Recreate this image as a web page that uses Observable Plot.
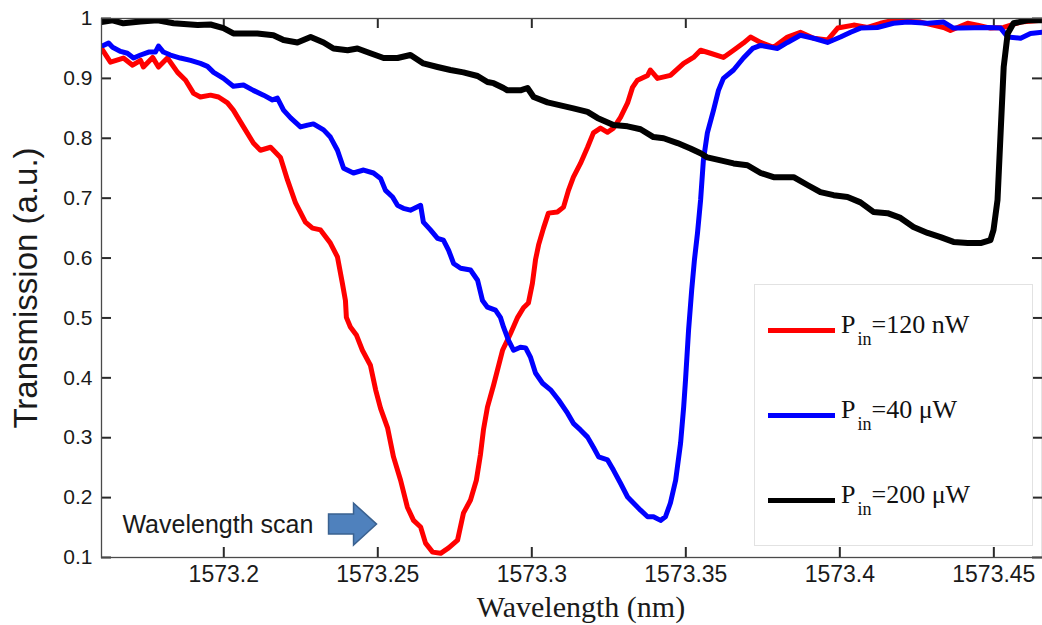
<!DOCTYPE html>
<html>
<head>
<meta charset="utf-8">
<script src="https://cdn.jsdelivr.net/npm/d3@7"></script>
<script src="https://cdn.jsdelivr.net/npm/@observablehq/plot@0.6"></script>
<style>
  body { margin: 0; background: #fff; }
  #wrap { position: relative; width: 1042px; height: 625px; overflow: hidden; background: #fff; }
  .legend { position: absolute; left: 754px; top: 284px; width: 279px; height: 262px;
    border: 1px solid #e2e2e2; background: #fff; box-sizing: border-box;
    font-family: "Liberation Serif", "Times New Roman", serif; font-size: 26px; color: #111; }
  .legend .sw { position: absolute; left: 13px; width: 67px; height: 5px; }
  .legend .lbl { position: absolute; left: 86px; line-height: 1; white-space: nowrap; }
  .legend .lbl sub { font-size: 18px; vertical-align: -12px; line-height: 1; margin-left: 2px; }
</style>
</head>
<body>
<div id="wrap"></div>
<script>
// ---- data (wavelength nm, transmission a.u.) ----
const redCurve = [
[1573.1603,0.950],[1573.1632,0.927],[1573.1674,0.934],[1573.1704,0.922],[1573.1730,0.930],[1573.1739,0.919],
[1573.1769,0.935],[1573.1788,0.919],[1573.1817,0.934],[1573.1850,0.910],[1573.1876,0.897],[1573.1902,0.875],
[1573.1924,0.869],[1573.1957,0.872],[1573.1983,0.869],[1573.2012,0.859],[1573.2031,0.847],[1573.2064,0.819],
[1573.2096,0.792],[1573.2119,0.780],[1573.2152,0.785],[1573.2184,0.768],[1573.2207,0.730],[1573.2233,0.692],
[1573.2265,0.660],[1573.2288,0.650],[1573.2314,0.647],[1573.2346,0.625],[1573.2369,0.602],[1573.2385,0.558],
[1573.2395,0.529],[1573.2398,0.501],[1573.2411,0.485],[1573.2431,0.471],[1573.2450,0.446],[1573.2476,0.421],
[1573.2493,0.380],[1573.2509,0.349],[1573.2532,0.316],[1573.2551,0.268],[1573.2574,0.229],[1573.2596,0.184],
[1573.2616,0.162],[1573.2639,0.151],[1573.2655,0.124],[1573.2678,0.109],[1573.2704,0.107],[1573.2730,0.116],
[1573.2759,0.129],[1573.2778,0.174],[1573.2801,0.196],[1573.2820,0.229],[1573.2833,0.271],[1573.2843,0.313],
[1573.2856,0.351],[1573.2876,0.388],[1573.2905,0.446],[1573.2931,0.474],[1573.2954,0.501],[1573.2973,0.517],
[1573.2989,0.525],[1573.3002,0.558],[1573.3012,0.597],[1573.3022,0.622],[1573.3038,0.650],[1573.3054,0.675],
[1573.3083,0.677],[1573.3103,0.685],[1573.3119,0.713],[1573.3135,0.735],[1573.3158,0.758],[1573.3181,0.785],
[1573.3200,0.809],[1573.3223,0.817],[1573.3246,0.810],[1573.3265,0.817],[1573.3288,0.835],[1573.3311,0.859],
[1573.3327,0.885],[1573.3343,0.897],[1573.3376,0.905],[1573.3385,0.914],[1573.3408,0.900],[1573.3450,0.905],
[1573.3493,0.925],[1573.3525,0.935],[1573.3548,0.947],[1573.3580,0.942],[1573.3622,0.935],[1573.3655,0.947],
[1573.3687,0.959],[1573.3710,0.969],[1573.3743,0.960],[1573.3785,0.952],[1573.3830,0.969],[1573.3872,0.977],
[1573.3915,0.967],[1573.3960,0.964],[1573.3993,0.984],[1573.4045,0.989],[1573.4090,0.985],[1573.4132,0.992],
[1573.4174,0.997],[1573.4230,0.995],[1573.4262,0.994],[1573.4337,0.985],[1573.4359,0.980],[1573.4415,0.992],
[1573.4447,0.989],[1573.4489,0.984],[1573.4532,0.985],[1573.4587,0.994],[1573.4658,0.997]
];
const blueCurve = [
[1573.1609,0.955],[1573.1626,0.959],[1573.1639,0.952],[1573.1665,0.945],[1573.1687,0.942],[1573.1707,0.934],
[1573.1730,0.939],[1573.1756,0.944],[1573.1778,0.944],[1573.1788,0.954],[1573.1804,0.944],[1573.1827,0.939],
[1573.1859,0.934],[1573.1892,0.930],[1573.1924,0.925],[1573.1947,0.920],[1573.1967,0.910],[1573.1999,0.900],
[1573.2031,0.887],[1573.2064,0.889],[1573.2096,0.880],[1573.2129,0.872],[1573.2158,0.864],[1573.2174,0.867],
[1573.2194,0.847],[1573.2217,0.834],[1573.2249,0.819],[1573.2272,0.822],[1573.2291,0.824],[1573.2324,0.814],
[1573.2346,0.802],[1573.2369,0.780],[1573.2389,0.750],[1573.2421,0.742],[1573.2454,0.747],[1573.2486,0.742],
[1573.2509,0.733],[1573.2525,0.713],[1573.2548,0.702],[1573.2564,0.688],[1573.2583,0.683],[1573.2606,0.680],
[1573.2639,0.688],[1573.2648,0.660],[1573.2671,0.647],[1573.2694,0.633],[1573.2713,0.630],[1573.2730,0.613],
[1573.2746,0.591],[1573.2769,0.583],[1573.2801,0.580],[1573.2824,0.563],[1573.2840,0.529],[1573.2856,0.518],
[1573.2882,0.513],[1573.2898,0.501],[1573.2908,0.485],[1573.2924,0.463],[1573.2941,0.446],[1573.2963,0.451],
[1573.2980,0.450],[1573.2996,0.434],[1573.3012,0.408],[1573.3035,0.391],[1573.3061,0.380],[1573.3087,0.363],
[1573.3116,0.341],[1573.3135,0.324],[1573.3158,0.313],[1573.3181,0.301],[1573.3200,0.284],[1573.3217,0.268],
[1573.3246,0.263],[1573.3265,0.246],[1573.3288,0.224],[1573.3311,0.201],[1573.3330,0.191],[1573.3353,0.179],
[1573.3376,0.168],[1573.3395,0.168],[1573.3418,0.162],[1573.3434,0.168],[1573.3450,0.191],[1573.3467,0.229],
[1573.3483,0.291],[1573.3493,0.351],[1573.3499,0.396],[1573.3509,0.480],[1573.3519,0.546],[1573.3528,0.597],
[1573.3538,0.642],[1573.3548,0.697],[1573.3557,0.763],[1573.3570,0.809],[1573.3590,0.847],[1573.3606,0.880],
[1573.3622,0.900],[1573.3655,0.914],[1573.3687,0.934],[1573.3717,0.950],[1573.3743,0.955],[1573.3798,0.950],
[1573.3830,0.960],[1573.3872,0.972],[1573.3915,0.967],[1573.3960,0.960],[1573.4002,0.969],[1573.4035,0.977],
[1573.4067,0.984],[1573.4122,0.985],[1573.4174,0.992],[1573.4220,0.994],[1573.4285,0.992],[1573.4337,0.994],
[1573.4369,0.984],[1573.4392,0.984],[1573.4480,0.985],[1573.4522,0.984],[1573.4545,0.969],[1573.4587,0.967],
[1573.4619,0.975],[1573.4658,0.977]
];
const blackCurve = [
[1573.1603,0.994],[1573.1639,0.997],[1573.1674,0.992],[1573.1730,0.995],[1573.1785,0.997],[1573.1837,0.992],
[1573.1915,0.989],[1573.1957,0.990],[1573.1999,0.984],[1573.2031,0.975],[1573.2109,0.975],[1573.2161,0.972],
[1573.2194,0.964],[1573.2239,0.960],[1573.2282,0.969],[1573.2324,0.960],[1573.2356,0.950],[1573.2402,0.947],
[1573.2434,0.950],[1573.2476,0.942],[1573.2519,0.934],[1573.2564,0.934],[1573.2606,0.939],[1573.2648,0.925],
[1573.2694,0.919],[1573.2736,0.914],[1573.2778,0.910],[1573.2824,0.904],[1573.2856,0.894],[1573.2876,0.892],
[1573.2908,0.884],[1573.2921,0.880],[1573.2963,0.880],[1573.2986,0.884],[1573.3006,0.869],[1573.3051,0.860],
[1573.3093,0.855],[1573.3135,0.850],[1573.3181,0.844],[1573.3213,0.834],[1573.3265,0.822],[1573.3311,0.820],
[1573.3353,0.815],[1573.3395,0.802],[1573.3428,0.800],[1573.3473,0.792],[1573.3515,0.783],[1573.3548,0.775],
[1573.3570,0.768],[1573.3613,0.763],[1573.3655,0.758],[1573.3700,0.755],[1573.3743,0.742],[1573.3785,0.735],
[1573.3850,0.735],[1573.3895,0.722],[1573.3937,0.710],[1573.3980,0.705],[1573.4025,0.702],[1573.4067,0.693],
[1573.4109,0.677],[1573.4155,0.675],[1573.4197,0.667],[1573.4239,0.652],[1573.4285,0.642],[1573.4327,0.635],
[1573.4369,0.627],[1573.4415,0.625],[1573.4457,0.625],[1573.4489,0.630],[1573.4499,0.647],[1573.4512,0.697],
[1573.4522,0.809],[1573.4532,0.919],[1573.4545,0.975],[1573.4564,0.992],[1573.4609,0.997],[1573.4658,0.997]
];

const xDomain = [1573.1603, 1573.4658];
const yDomain = [0.1, 1];
const xTicks = [1573.2, 1573.25, 1573.3, 1573.35, 1573.4, 1573.45];
const xTickLabels = ["1573.2", "1573.25", "1573.3", "1573.35", "1573.4", "1573.45"];
const yTicks = [0.1, 0.2, 0.3, 0.4, 0.5, 0.6, 0.7, 0.8, 0.9, 1];
const yTickLabels = ["0.1", "0.2", "0.3", "0.4", "0.5", "0.6", "0.7", "0.8", "0.9", "1"];
const xTitle = ["Wavelength (nm)"];
const yTitle = ["Transmission (a.u.)"];
const legendLabels = ["=120 nW", "=40 \u03bcW", "=200 \u03bcW"];
const scanNote = [{w: 1573.1671, t: 0.154, label: "Wavelength scan"}];
const scanArrow = [{w: 1573.2418, t: 0.1558}];

// ---- styles / layout ----
const W = 1042, H = 625, mL = 101, mR = 0, mT = 18, mB = 68;
const frameW = W - mL - mR, frameH = H - mT - mB;
const tickLen = 10;
const colors = ["#ff0000", "#0000ff", "#000000"];
const widths = [5, 5, 6];
const axisGray = "#4a4a4a";
const tickColor = "#2a2a2a";
const arrowSymbol = {
  draw(ctx) {
    ctx.moveTo(-24, -10); ctx.lineTo(1, -10); ctx.lineTo(1, -21); ctx.lineTo(24, 0);
    ctx.lineTo(1, 21); ctx.lineTo(1, 10); ctx.lineTo(-24, 10); ctx.closePath();
  }
};
const curves = [redCurve, blueCurve, blackCurve];
const xLab = d => xTickLabels[xTicks.indexOf(d)];
const yLab = d => yTickLabels[yTicks.indexOf(d)];

const chart = Plot.plot({
  width: W, height: H,
  marginLeft: mL, marginRight: mR, marginTop: mT, marginBottom: mB,
  x: {domain: xDomain},
  y: {domain: yDomain},
  style: {fontFamily: "'Liberation Sans', Arial, sans-serif", color: "#1a1a1a"},
  marks: [
    // inward tick marks on all four sides
    Plot.ruleX(xTicks, {x: d => d, insetTop: frameH - tickLen, stroke: tickColor, strokeWidth: 2}),
    Plot.ruleX(xTicks, {x: d => d, insetBottom: frameH - tickLen, stroke: tickColor, strokeWidth: 2}),
    Plot.ruleY(yTicks, {y: d => d, insetRight: frameW - tickLen, stroke: tickColor, strokeWidth: 2}),
    Plot.ruleY(yTicks, {y: d => d, insetLeft: frameW - tickLen, stroke: tickColor, strokeWidth: 2}),
    ...curves.map((c, i) => Plot.line(c, {x: d => d[0], y: d => d[1], stroke: colors[i], strokeWidth: widths[i],
      strokeLinejoin: "round", strokeLinecap: "round", clip: true})),
    Plot.frame({stroke: axisGray, strokeWidth: 1.3}),
    Plot.axisX({anchor: "bottom", ticks: xTicks, tickSize: 0, tickPadding: 8, fontSize: 23, tickFormat: xLab, label: null}),
    Plot.axisY({anchor: "left", ticks: yTicks, tickSize: 0, tickPadding: 9, fontSize: 21, tickFormat: yLab, label: null}),
    Plot.text(yTitle, {frameAnchor: "left", text: d => d, rotate: -90, dx: -75, fontSize: 33,
      textAnchor: "middle", lineAnchor: "middle"}),
    Plot.text(xTitle, {frameAnchor: "bottom", text: d => d, dx: 9, dy: 38, textAnchor: "middle", lineAnchor: "top", fontSize: 30,
      fontFamily: "'Liberation Serif', 'Times New Roman', serif"}),
    Plot.text(scanNote, {x: "w", y: "t", text: "label", textAnchor: "start", lineAnchor: "middle", fontSize: 25}),
    Plot.dot(scanArrow, {x: "w", y: "t", symbol: arrowSymbol, r: 10, fill: "#4f81bd", stroke: "#3a6190", strokeWidth: 1.5})
  ]
});

const wrap = document.getElementById("wrap");
wrap.appendChild(chart);

// legend inside the plot area
const legend = d3.select(wrap).append("div").attr("class", "legend");
legendLabels.forEach((lab, i) => {
  const cy = 45 + i * 85;
  legend.append("div").attr("class", "sw").style("top", (cy - 2.5) + "px").style("background", colors[i]);
  const t = legend.append("div").attr("class", "lbl").style("top", (cy + 4 - 21.8) + "px");
  t.append("span").text("P");
  t.append("sub").text("in");
  t.append("span").text(lab);
});
</script>
</body>
</html>
